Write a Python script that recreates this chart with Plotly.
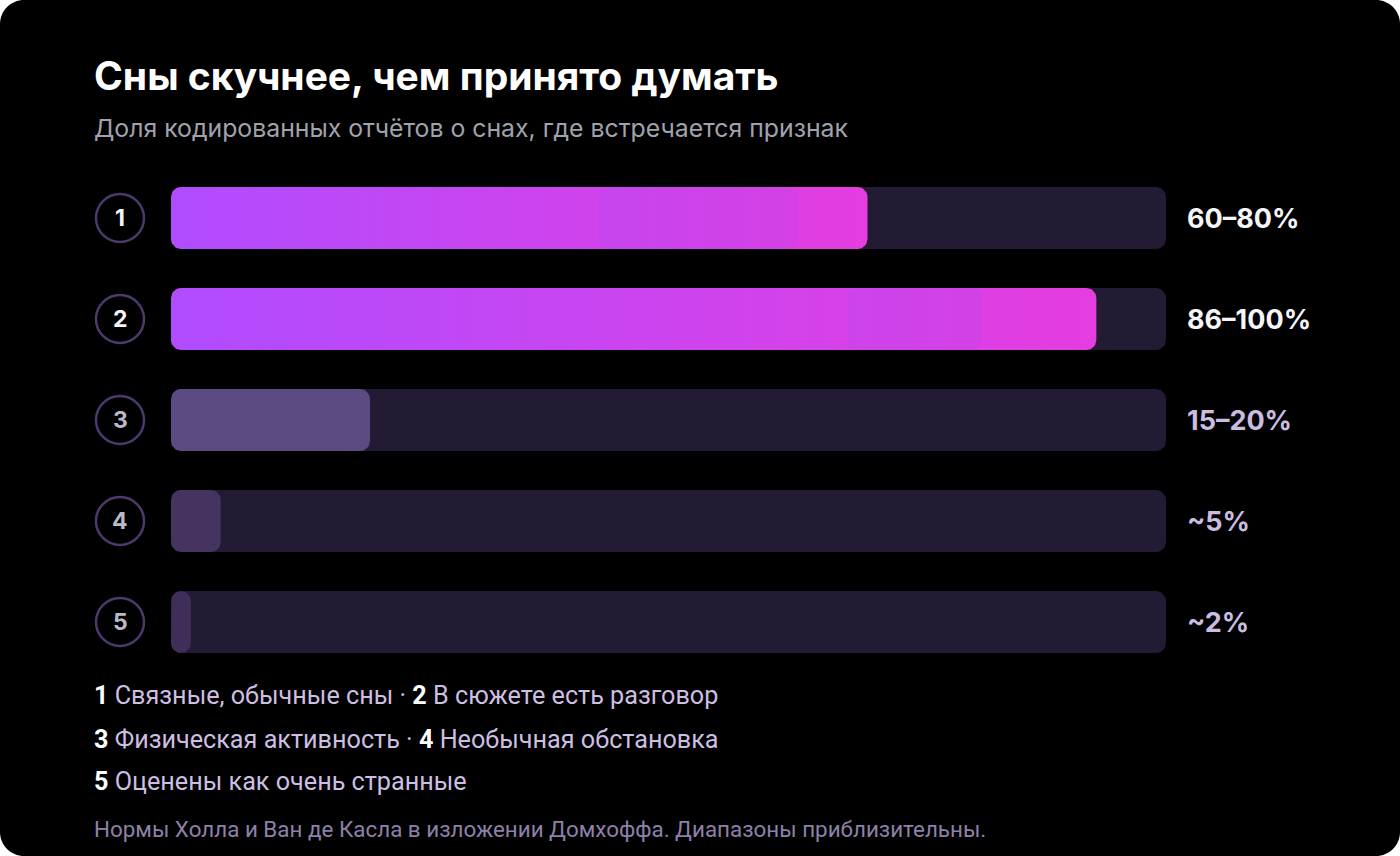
import math
import plotly.graph_objects as go

# ---------------- data ----------------
row_ids = ["1", "2", "3", "4", "5"]
values = [70, 93, 20, 5, 2]            # bar length, % of track
range_labels = ["60–80%", "86–100%", "15–20%", "~5%", "~2%"]
descriptions = [
    "Связные, обычные сны",
    "В сюжете есть разговор",
    "Физическая активность",
    "Необычная обстановка",
    "Оценены как очень странные",
]
highlight_lo = [43, 68, None, None, None]
highlight_hi = [63, 81.5, None, None, None]
track_max = 100

title = "Сны скучнее, чем принято думать"
subtitle = "Доля кодированных отчётов о снах, где встречается признак"
footer = "Нормы Холла и Ван де Касла в изложении Домхоффа. Диапазоны приблизительны."

# ---------------- style ----------------
W, H = 1400, 856
FONT = "Inter"
FONT2 = "Roboto"
GRAD_START = "#b04cff"
GRAD_END = "#e53de0"
solid_colors = [None, None, "#5c4a82", "#45345f", "#3f2e5a"]
gradient_rows = [True, True, False, False, False]
TRACK = "#221b33"
RADIUS_PX = 10
BAR_H = 0.614           # bar thickness in row units
num_colors = ["#f5f5f7", "#f5f5f7", "#b9bcc8", "#b9bcc8", "#b9bcc8"]
val_colors = ["#f5f5f7", "#f5f5f7", "#cbbde0", "#cbbde0", "#cbbde0"]

X0_PX, X1_PX = 171, 1166
ROW_PX = 101
x_dom = [X0_PX / W, X1_PX / W]
y_dom = [(H - 672.5) / H, (H - 167.5) / H]
px_per_x = (X1_PX - X0_PX) / track_max
RX = RADIUS_PX / px_per_x
RY = RADIUS_PX / ROW_PX

fig = go.Figure()


def rounded_outline(x0, x1, yc, n=10):
    """Outline of a rounded bar from x0 to x1 at row yc, in data units."""
    y0, y1 = yc - BAR_H / 2, yc + BAR_H / 2
    rx = min(RX, (x1 - x0) / 2)
    ry = RY
    centers = [(x1 - rx, y0 + ry, 270), (x1 - rx, y1 - ry, 0),
               (x0 + rx, y1 - ry, 90), (x0 + rx, y0 + ry, 180)]
    xs, ys = [], []
    for cx, cy, a0 in centers:
        for j in range(n + 1):
            a = math.radians(a0 + 90 * j / n)
            xs.append(cx + rx * math.cos(a))
            ys.append(cy + ry * math.sin(a))
    xs.append(xs[0])
    ys.append(ys[0])
    return xs, ys


def add_bar(x0, x1, yc, color=None, gradient=None):
    xs, ys = rounded_outline(x0, x1, yc)
    kw = dict(fillcolor=color)
    if gradient:
        kw = dict(fillgradient=dict(type="horizontal",
                                    colorscale=[[0, gradient[0]], [1, gradient[1]]]))
    fig.add_trace(go.Scatter(
        x=xs, y=ys, mode="lines", fill="toself",
        line=dict(width=0, color="rgba(0,0,0,0)"),
        hoverinfo="skip", showlegend=False, **kw,
    ))


# tracks
for i in range(len(values)):
    add_bar(0, track_max, i, color=TRACK)

# value bars
for i, v in enumerate(values):
    if gradient_rows[i]:
        add_bar(0, v, i, gradient=(GRAD_START, GRAD_END))
    else:
        add_bar(0, v, i, color=solid_colors[i])

# subtle highlight bands
for i, (lo, hi) in enumerate(zip(highlight_lo, highlight_hi)):
    if lo is None:
        continue
    add_bar(lo, hi, i, color="rgba(120,90,255,0.10)")

shapes = []
annotations = []

# numbered circles
r_y = 24 / ROW_PX
for i, rid in enumerate(row_ids):
    shapes.append(dict(type="circle", xref="paper", yref="y",
                       x0=96 / W, x1=144 / W, y0=i - r_y, y1=i + r_y,
                       line=dict(color="#4b3a6b", width=2.5), fillcolor="rgba(0,0,0,0)"))
    annotations.append(dict(x=120 / W, xref="paper", y=i, yref="y",
                            xanchor="center", yanchor="middle", showarrow=False,
                            text=f"<b>{rid}</b>",
                            font=dict(family=FONT, size=23, color=num_colors[i])))

# value labels
for i, lab in enumerate(range_labels):
    annotations.append(dict(
        x=1185 / W, xref="paper", y=i, yref="y", xanchor="left", yanchor="middle",
        text=f"<b>{lab}</b>", showarrow=False,
        font=dict(family=FONT, size=27, color=val_colors[i]),
    ))

# title / subtitle
annotations.append(dict(x=92 / W, y=1 - 76 / H, xref="paper", yref="paper",
                        xanchor="left", yanchor="middle", showarrow=False,
                        text=f"<b>{title}</b>",
                        font=dict(family=FONT, size=39, color="#ffffff")))
annotations.append(dict(x=92 / W, y=1 - 128 / H, xref="paper", yref="paper",
                        xanchor="left", yanchor="middle", showarrow=False,
                        text=subtitle,
                        font=dict(family=FONT, size=24.8, color="#a0a3ad")))

# legend lines
DESC_COL = "#cdbfe3"


def item(k):
    return (f"<b><span style='color:#ffffff'>{row_ids[k]}</span></b> "
            f"<span style='color:{DESC_COL}'>{descriptions[k]}</span>")


sep = f"<span style='color:{DESC_COL}'> · </span>"
legend_lines = [item(0) + sep + item(1), item(2) + sep + item(3), item(4)]
for line, ypx in zip(legend_lines, [695, 739, 781]):
    annotations.append(dict(x=92 / W, y=1 - ypx / H, xref="paper", yref="paper",
                            xanchor="left", yanchor="middle", showarrow=False,
                            text=line, font=dict(family=FONT2, size=25.2, color=DESC_COL)))

annotations.append(dict(x=92 / W, y=1 - 829 / H, xref="paper", yref="paper",
                        xanchor="left", yanchor="middle", showarrow=False,
                        text=footer, font=dict(family=FONT2, size=22.4, color="#8e80a9")))

# rounded black card
rx, ry = 24 / W, 24 / H
k = 0.5523
path = (f"M {rx},0 L {1-rx},0 C {1-rx+rx*k},0 1,{ry-ry*k} 1,{ry} "
        f"L 1,{1-ry} C 1,{1-ry+ry*k} {1-rx+rx*k},1 {1-rx},1 "
        f"L {rx},1 C {rx-rx*k},1 0,{1-ry+ry*k} 0,{1-ry} "
        f"L 0,{ry} C 0,{ry-ry*k} {rx-rx*k},0 {rx},0 Z")
shapes.insert(0, dict(type="path", path=path, xref="paper", yref="paper",
                      fillcolor="#000000", line=dict(width=0), layer="below"))

fig.update_layout(
    width=W, height=H,
    margin=dict(l=0, r=0, t=0, b=0),
    paper_bgcolor="#ffffff", plot_bgcolor="rgba(0,0,0,0)",
    xaxis=dict(range=[0, track_max], domain=x_dom, visible=False, fixedrange=True),
    yaxis=dict(range=[len(values) - 0.5, -0.5], domain=y_dom, visible=False, fixedrange=True),
    shapes=shapes,
    annotations=annotations,
    showlegend=False,
)

fig.write_html("out.html", config={"displayModeBar": False},
               post_script="document.body.style.margin='0';document.body.style.overflow='hidden';")
